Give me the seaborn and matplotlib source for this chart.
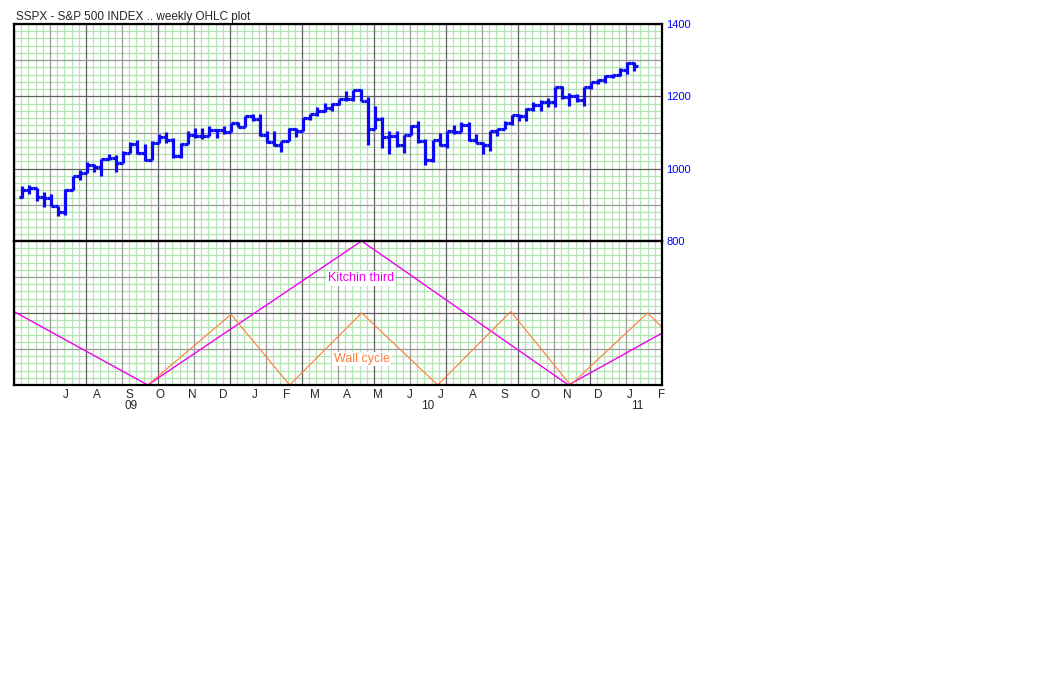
import numpy as np
import pandas as pd
import matplotlib
matplotlib.use('Agg')
import matplotlib.pyplot as plt
import matplotlib.transforms as mtransforms
import seaborn as sns

sns.set_style('white')
plt.rcParams['font.family'] = ['Liberation Sans', 'DejaVu Sans']

# weekly bars, one per week (Friday), Jun 2009 - Jan 2011
week_end = pd.date_range('2009-06-05', periods=86, freq='W-FRI')
opens = [923, 940, 946, 921, 919, 896, 879, 940, 979, 987,
         1010, 1004, 1026, 1029, 1016, 1043, 1068, 1044, 1025, 1071,
         1088, 1080, 1036, 1069, 1093, 1091, 1091, 1106, 1106, 1102,
         1126, 1116, 1145, 1136, 1092, 1074, 1066, 1076, 1109, 1105,
         1139, 1150, 1160, 1167, 1178, 1194, 1192, 1217, 1187, 1111,
         1136, 1088, 1089, 1065, 1092, 1118, 1077, 1023, 1078, 1065,
         1103, 1102, 1122, 1079, 1072, 1065, 1105, 1110, 1126, 1149,
         1146, 1165, 1176, 1183, 1183, 1226, 1199, 1200, 1189, 1225,
         1240, 1244, 1257, 1258, 1272, 1293]
highs = [951, 956, 946, 935, 931, 898, 943, 979, 996, 1018,
         1013, 1027, 1040, 1039, 1049, 1074, 1080, 1069, 1076, 1097,
         1101, 1086, 1072, 1105, 1113, 1112, 1119, 1110, 1117, 1127,
         1130, 1145, 1150, 1150, 1103, 1104, 1077, 1112, 1112, 1139,
         1152, 1170, 1181, 1182, 1194, 1214, 1217, 1219, 1197, 1174,
         1142, 1104, 1105, 1092, 1120, 1131, 1083, 1078, 1100, 1103,
         1120, 1130, 1129, 1095, 1075, 1105, 1111, 1131, 1149, 1151,
         1167, 1184, 1190, 1196, 1227, 1228, 1208, 1206, 1225, 1241,
         1247, 1259, 1263, 1278, 1294, 1296]
lows = [920, 930, 910, 893, 896, 869, 872, 940, 970, 987,
        990, 980, 1025, 992, 1016, 1043, 1041, 1020, 1025, 1071,
        1070, 1030, 1029, 1069, 1085, 1083, 1091, 1085, 1095, 1102,
        1115, 1114, 1132, 1090, 1071, 1062, 1045, 1076, 1087, 1105,
        1134, 1147, 1156, 1159, 1176, 1186, 1188, 1186, 1066, 1111,
        1056, 1040, 1061, 1043, 1092, 1071, 1011, 1018, 1063, 1056,
        1097, 1102, 1076, 1070, 1040, 1048, 1091, 1110, 1122, 1131,
        1132, 1159, 1160, 1171, 1171, 1194, 1173, 1185, 1174, 1220,
        1233, 1238, 1251, 1257, 1263, 1271]
closes = [940, 946, 921, 919, 896, 879, 940, 979, 987, 1010,
          1004, 1026, 1029, 1016, 1043, 1068, 1044, 1025, 1071, 1088,
          1080, 1036, 1069, 1093, 1091, 1091, 1106, 1106, 1102, 1126,
          1115, 1145, 1136, 1092, 1074, 1066, 1076, 1109, 1104, 1139,
          1150, 1160, 1167, 1178, 1194, 1192, 1217, 1187, 1111, 1136,
          1088, 1089, 1065, 1092, 1118, 1077, 1023, 1078, 1065, 1103,
          1102, 1122, 1079, 1072, 1065, 1105, 1110, 1126, 1149, 1146,
          1165, 1176, 1183, 1183, 1226, 1199, 1200, 1189, 1225, 1240,
          1244, 1257, 1258, 1272, 1293, 1283]

# cycle turning points (lower panel, 0 = trough, 100 = top)
kitchin_dates = pd.to_datetime(['2009-05-28', '2009-10-05', '2010-05-01',
                                '2010-11-18', '2011-02-17'])
kitchin_vals = [51, 0, 100, 0, 36]
wall_dates = pd.to_datetime(['2009-10-05', '2009-12-25', '2010-02-20',
                             '2010-05-01', '2010-07-14', '2010-09-23',
                             '2010-11-20', '2011-02-03', '2011-02-17'])
wall_vals = [0, 49, 0, 50, 0, 51, 0, 50, 40]

month_letters = ['J', 'A', 'S', 'O', 'N', 'D', 'J', 'F', 'M', 'A',
                 'M', 'J', 'J', 'A', 'S', 'O', 'N', 'D', 'J', 'F']
month_pos = pd.date_range('2009-07-01', periods=20, freq='MS') + pd.Timedelta(days=16)
year_labels = ['09', '10', '11']
year_pos = pd.to_datetime(['2009-09-19', '2010-07-04', '2011-01-24'])
price_ticks = [800, 1000, 1200, 1400]

x_start = pd.Timestamp('2009-05-28')
x_end = x_start + pd.Timedelta(days=630)

blue = '#0a0af5'
magenta = '#f000f0'
orange = '#ff7a3a'
green = '#b2e4b2'
mid_grey = '#9a9a9a'
dark_grey = '#606060'

fig = plt.figure(figsize=(10.38, 6.93), dpi=100)
ax1 = fig.add_axes([14/1038, 1 - 241/693, 648/1038, 217/693])
ax2 = fig.add_axes([14/1038, 1 - 385/693, 648/1038, 144/693])

# OHLC bars
half = pd.Timedelta(days=3.5)
ax1.vlines(week_end, lows, highs, color=blue, lw=2.3, zorder=3)
ax1.hlines(opens, week_end - half, week_end, color=blue, lw=2.3, zorder=3)
ax1.hlines(closes, week_end, week_end + half, color=blue, lw=2.3, zorder=3)

# cycles
sns.lineplot(x=kitchin_dates, y=kitchin_vals, ax=ax2, color=magenta, lw=1.0, zorder=3)
sns.lineplot(x=wall_dates, y=wall_vals, ax=ax2, color=orange, lw=0.8, zorder=3)

for ax in (ax1, ax2):
    ax.set_xlim(x_start, x_end)
    ax.set_xlabel('')
    ax.set_ylabel('')
    ax.set_facecolor('white')
    for s in ax.spines.values():
        s.set_color('black')
        s.set_linewidth(1.6)
        s.set_zorder(5)

ax1.set_ylim(800, 1400)
ax2.set_ylim(0, 100)

# grid: green minor lines, grey majors
x0 = matplotlib.dates.date2num(x_start)
for k in range(91):
    c = dark_grey if k % 10 == 0 else (mid_grey if k % 5 == 0 else green)
    for ax in (ax1, ax2):
        ax.axvline(x0 + 7 * k, color=c, lw=0.9, zorder=1 if c == green else 2)
for v in range(800, 1401, 20):
    c = dark_grey if v % 200 == 0 else (mid_grey if v % 100 == 0 else green)
    ax1.axhline(v, color=c, lw=0.9, zorder=1 if c == green else 2)
for v in range(0, 101, 5):
    c = dark_grey if v % 50 == 0 else (mid_grey if v % 25 == 0 else green)
    ax2.axhline(v, color=c, lw=0.9, zorder=1 if c == green else 2)

# axes labels
ax1.set_xticks([])
ax1.yaxis.tick_right()
ax1.set_yticks(price_ticks)
ax1.set_yticklabels([str(t) for t in price_ticks])
ax1.tick_params(axis='y', length=0, pad=3, labelsize=8, labelcolor='#0000ff')
ax2.set_yticks([])
ax2.set_xticks([])
trans = mtransforms.blended_transform_factory(ax2.transData, ax2.transAxes)
for d, s in zip(month_pos, month_letters):
    ax2.text(d, -0.07, s, transform=trans, ha='center', va='center', fontsize=8.5)
for d, s in zip(year_pos, year_labels):
    ax2.text(d, -0.145, s, transform=trans, ha='center', va='center', fontsize=8.5)

ax2.text(pd.Timestamp('2010-04-30'), 74, 'Kitchin third', color=magenta, fontsize=9,
         ha='center', va='center', zorder=4,
         bbox=dict(facecolor='white', edgecolor='none', pad=1))
ax2.text(pd.Timestamp('2010-05-01'), 18, 'Wall cycle', color=orange, fontsize=9,
         ha='center', va='center', zorder=4,
         bbox=dict(facecolor='white', edgecolor='none', pad=1))

fig.text(16/1038, 1 - 17/693, 'SSPX - S&P 500 INDEX .. weekly OHLC plot',
         fontsize=8.5, ha='left', va='center')

fig.savefig('out.png', dpi=100, facecolor='white')
